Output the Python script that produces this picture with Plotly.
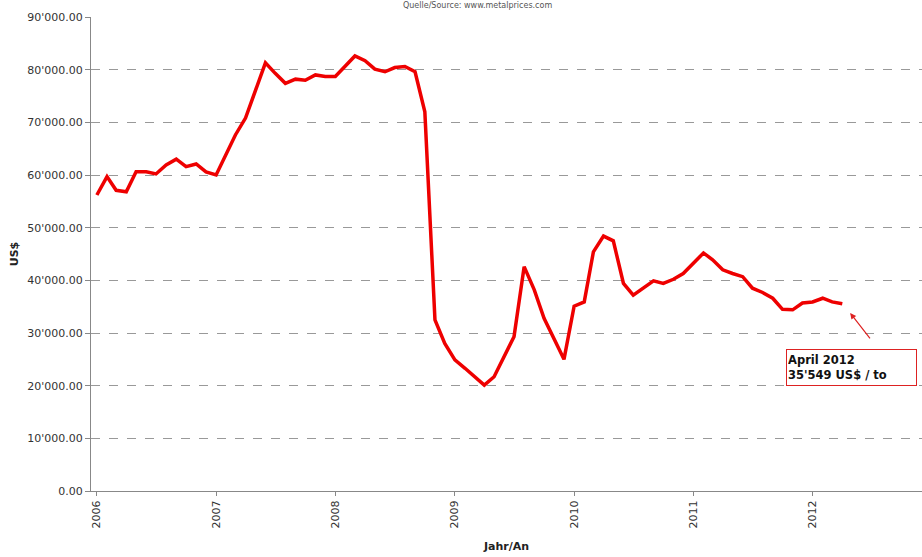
import plotly.graph_objects as go
import pandas as pd

# Monthly data, Jan 2006 - Apr 2012 (US$ per tonne)
months = pd.date_range("2006-01-01", "2012-04-01", freq="MS")
prices = [
    56200, 59700, 57100, 56800, 60600, 60600, 60200, 61900, 63000, 61600, 62100, 60600,
    60000, 63800, 67600, 70800, 76100, 81300, 79300, 77400, 78200, 78000, 79000, 78700,
    78700, 80700, 82600, 81700, 80100, 79600, 80400, 80600, 79600, 72000, 32500, 28000,
    24900, 23300, 21700, 20100, 21700, 25500, 29300, 42600, 38200, 32800, 29000, 25000,
    35100, 35900, 45400, 48400, 47500, 39400, 37200, 38500, 39900, 39400, 40200, 41300,
    43200, 45200, 43900, 42000, 41300, 40700, 38500, 37700, 36600, 34500, 34400, 35700,
    35900, 36600, 35900, 35549,
]
year_ticks = ["2006-01-01", "2007-01-01", "2008-01-01", "2009-01-01",
              "2010-01-01", "2011-01-01", "2012-01-01"]
year_labels = ["2006", "2007", "2008", "2009", "2010", "2011", "2012"]
y_ticks = [0, 10000, 20000, 30000, 40000, 50000, 60000, 70000, 80000, 90000]
y_labels = ["0.00", "10'000.00", "20'000.00", "30'000.00", "40'000.00",
            "50'000.00", "60'000.00", "70'000.00", "80'000.00", "90'000.00"]

fig = go.Figure()
fig.add_trace(go.Scatter(
    x=months, y=prices, mode="lines",
    line=dict(color="#ee0000", width=3.5),
    hoverinfo="skip", showlegend=False,
))

font = "DejaVu Sans, Verdana, sans-serif"
fig.update_layout(
    width=922, height=557,
    margin=dict(l=91, r=0, t=17, b=66),
    paper_bgcolor="white", plot_bgcolor="white",
    font=dict(family=font, size=11, color="#333333"),
    xaxis=dict(
        range=["2005-12-14", "2012-12-01"],
        tickvals=year_ticks, ticktext=year_labels, tickangle=-90,
        ticks="outside", ticklen=4, tickcolor="#888888",
        showline=True, linecolor="#888888", linewidth=1,
        showgrid=False, zeroline=False,
        tickfont=dict(size=11, color="#333333"),
        title=dict(text="<b>Jahr/An</b>", font=dict(size=11, color="#222222"), standoff=14),
    ),
    yaxis=dict(
        range=[0, 90000],
        tickvals=y_ticks, ticktext=y_labels,
        ticks="outside", ticklen=5, tickcolor="#888888",
        showline=True, linecolor="#888888", linewidth=1,
        showgrid=True, gridcolor="#999999", griddash="dash", gridwidth=1,
        zeroline=False,
        tickfont=dict(size=11, color="#333333"),
        title=dict(text="<b>US$</b>", font=dict(size=11, color="#222222"), standoff=6),
    ),
    annotations=[
        dict(text="Quelle/Source: www.metalprices.com", xref="paper", yref="paper",
             x=0.465, y=1.0, yshift=18, showarrow=False, xanchor="center", yanchor="top",
             font=dict(size=8, color="#555555")),
        dict(text="", x="2012-04-25", y=33800, xref="x", yref="y",
             showarrow=True, ax=21, ay=27, arrowhead=2, arrowsize=1, arrowwidth=1.2,
             arrowcolor="#dd2222"),
        dict(text="<b>April 2012<br>35'549 US$ / to</b>", x="2011-10-12", y=23400,
             xref="x", yref="y", xanchor="left", yanchor="middle", showarrow=False,
             align="left", width=127, height=33, bgcolor="white",
             bordercolor="#dd2222", borderwidth=1, borderpad=1,
             font=dict(size=11.5, color="#111111", family=font)),
    ],
)

fig.write_html("out.html", config={"displayModeBar": False},
               post_script="document.body.style.margin='0';")
